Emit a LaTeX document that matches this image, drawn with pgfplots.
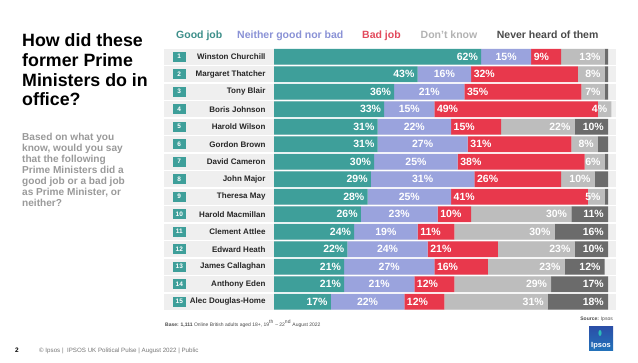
\documentclass[border=0pt]{standalone}
\usepackage{pgfplots}
\pgfplotsset{compat=1.18}
\usepackage{pgfplotstable}
\usepackage{fontspec}
\setmainfont{Liberation Sans}

\definecolor{cGood}{HTML}{3E9F9A}
\definecolor{cNeither}{HTML}{9AA3DD}
\definecolor{cBad}{HTML}{E8384C}
\definecolor{cDK}{HTML}{BDBDBD}
\definecolor{cNever}{HTML}{6B6B6B}
\definecolor{tGood}{HTML}{3D8F8A}
\definecolor{tNeither}{HTML}{8A92D6}
\definecolor{tBad}{HTML}{E24A5C}
\definecolor{tDK}{HTML}{B3B3B3}
\definecolor{tNever}{HTML}{4A4A4A}
\definecolor{band}{HTML}{EFEFEF}
\definecolor{subgray}{HTML}{9A9A9A}
\definecolor{footgray}{HTML}{777777}
\definecolor{logoblue}{HTML}{2B4FA8}

\pgfplotstableread{
idx good neither bad dk never
1 62 15 9 13 1
2 43 16 32 8 1
3 36 21 35 7 1
4 33 15 49 4 0
5 31 22 15 22 10
6 31 27 31 8 3
7 30 25 38 6 1
8 29 31 26 10 4
9 28 25 41 5 1
10 26 23 10 30 11
11 24 19 11 30 16
12 22 24 21 23 10
13 21 27 16 23 12
14 21 21 12 29 17
15 17 22 12 31 18
}\data

\newcommand{\pct}[1]{\pgfmathprintnumber[fixed,precision=0,assume math mode=true]{#1}\%}

\begin{document}
\begin{tikzpicture}
\path[use as bounding box, fill=white] (0,0) rectangle (638pt,-362pt);
\begin{scope}[x=1pt,y=-1pt]
  % row bands and badges
  \foreach \i in {1,...,15} {
    \fill[band] (164,{56.7+(\i-1)*17.5-8.1}) rectangle (616,{56.7+(\i-1)*17.5+8.1});
    \node[fill=cGood, minimum width=13pt, minimum height=10pt, inner sep=0pt,
          text=white, font=\fontsize{6.5}{7}\selectfont\bfseries]
          at (179.3,{56.7+(\i-1)*17.5}) {\i};
  }
  % title
  \begin{scope}[every node/.style={anchor=base west, inner sep=0pt, font=\fontsize{17.8}{19}\selectfont\bfseries}]
    \node at (22,46.7) {How did these};
    \node at (22,66.4) {former Prime};
    \node at (22,86.1) {Ministers do in};
    \node at (22,105.8) {office?};
  \end{scope}
  % subtitle
  \begin{scope}[every node/.style={anchor=base west, inner sep=0pt, text=subgray, font=\fontsize{10.1}{11}\selectfont\bfseries}]
    \node at (22,140.2) {Based on what you};
    \node at (22,151.3) {know, would you say};
    \node at (22,162.4) {that the following};
    \node at (22,173.5) {Prime Ministers did a};
    \node at (22,184.6) {good job or a bad job};
    \node at (22,195.7) {as Prime Minister, or};
    \node at (22,206.8) {neither?};
  \end{scope}
  % legend
  \begin{scope}[every node/.style={anchor=base west, inner sep=0pt, font=\fontsize{10.5}{12}\selectfont\bfseries}]
    \node[text=tGood] at (176,38.5) {Good job};
    \node[text=tNeither] at (237,38.5) {Neither good nor bad};
    \node[text=tBad] at (362,38.5) {Bad job};
    \node[text=tDK] at (420.5,38.5) {Don't know};
    \node[text=tNever] at (496.7,38.5) {Never heard of them};
  \end{scope}
  % footers
  \node[anchor=base west, inner sep=0pt, text=tNever, font=\fontsize{5}{6}\selectfont] at (165,326)
    {\textbf{Base:} \textbf{1,111} Online British adults aged 18+, 19\textsuperscript{th} -- 22\textsuperscript{nd} August 2022};
  \node[anchor=base east, inner sep=0pt, text=tNever, font=\fontsize{5}{6}\selectfont] at (613,320.5)
    {\textbf{Source:} Ipsos};
  \node[anchor=base west, inner sep=0pt, font=\fontsize{6.5}{7}\selectfont\bfseries] at (15,352) {2};
  \node[anchor=base west, inner sep=0pt, text=footgray, font=\fontsize{6.2}{7}\selectfont] at (39,352)
    {\textcopyright{} Ipsos \textbar{}\ \ IPSOS UK Political Pulse \textbar{} August 2022 \textbar{} Public};
  % logo
  \shade[top color=logoblue, bottom color=logoblue!80!cyan] (589,326.7) rectangle (613,350.5);
  \node[text=white, inner sep=0pt, font=\fontsize{7.5}{8}\selectfont\bfseries, anchor=base] at (601,347.5) {Ipsos};
  \fill[cGood!70!cyan] (600,333) ellipse (1.6 and 3);
\end{scope}

\begin{axis}[
  at={(274pt,-47.95pt)}, anchor=north west,
  scale only axis, width=334pt, height=262.5pt,
  xbar stacked, bar width=0.9,
  xmin=0, xmax=100, ymin=0.5, ymax=15.5, y dir=reverse,
  axis line style={draw=none}, major tick length=0pt,
  xtick=\empty, ytick={1,...,15},
  yticklabels={Winston Churchill, Margaret Thatcher, Tony Blair, Boris Johnson, Harold Wilson, Gordon Brown, David Cameron, John Major, Theresa May, Harold Macmillan, Clement Attlee, Edward Heath, James Callaghan, Anthony Eden, Alec Douglas-Home},
  yticklabel style={font=\fontsize{8}{9}\selectfont\bfseries, text=black!85, xshift=-5pt},
  clip=false,
  every node near coord/.append style={font=\fontsize{10.5}{12}\selectfont\bfseries, text=white, inner sep=0pt},
]
\addplot[fill=cGood, draw=none,
  visualization depends on={\thisrow{good} \as \gv},
  nodes near coords={\pct{\gv}},
  every node near coord/.append style={anchor=east, xshift={\gv*1.67pt-3pt}}]
  table[x=good, y=idx] {\data};
\addplot[fill=cNeither, draw=none,
  visualization depends on={\thisrow{neither} \as \gv},
  nodes near coords={\pct{\gv}},
  every node near coord/.append style={anchor=center}]
  table[x=neither, y=idx] {\data};
\addplot[fill=cBad, draw=none,
  visualization depends on={\thisrow{bad} \as \gv},
  nodes near coords={\pct{\gv}},
  every node near coord/.append style={anchor=west, xshift={-\gv*1.67pt+2.5pt}}]
  table[x=bad, y=idx] {\data};
\addplot[fill=cDK, draw=none,
  visualization depends on={\thisrow{dk} \as \gv},
  nodes near coords={\pct{\gv}},
  every node near coord/.append style={anchor=east, xshift={\gv*1.67pt-4pt}}]
  table[x=dk, y=idx] {\data};
\addplot[fill=cNever, draw=none,
  visualization depends on={\thisrow{never} \as \gv},
  nodes near coords={\pgfmathparse{\gv<9.5}\ifnum\pgfmathresult=1\relax\else\pct{\gv}\fi},
  every node near coord/.append style={anchor=east, xshift={\gv*1.67pt-4pt}}]
  table[x=never, y=idx] {\data};
\end{axis}
\end{tikzpicture}
\end{document}
